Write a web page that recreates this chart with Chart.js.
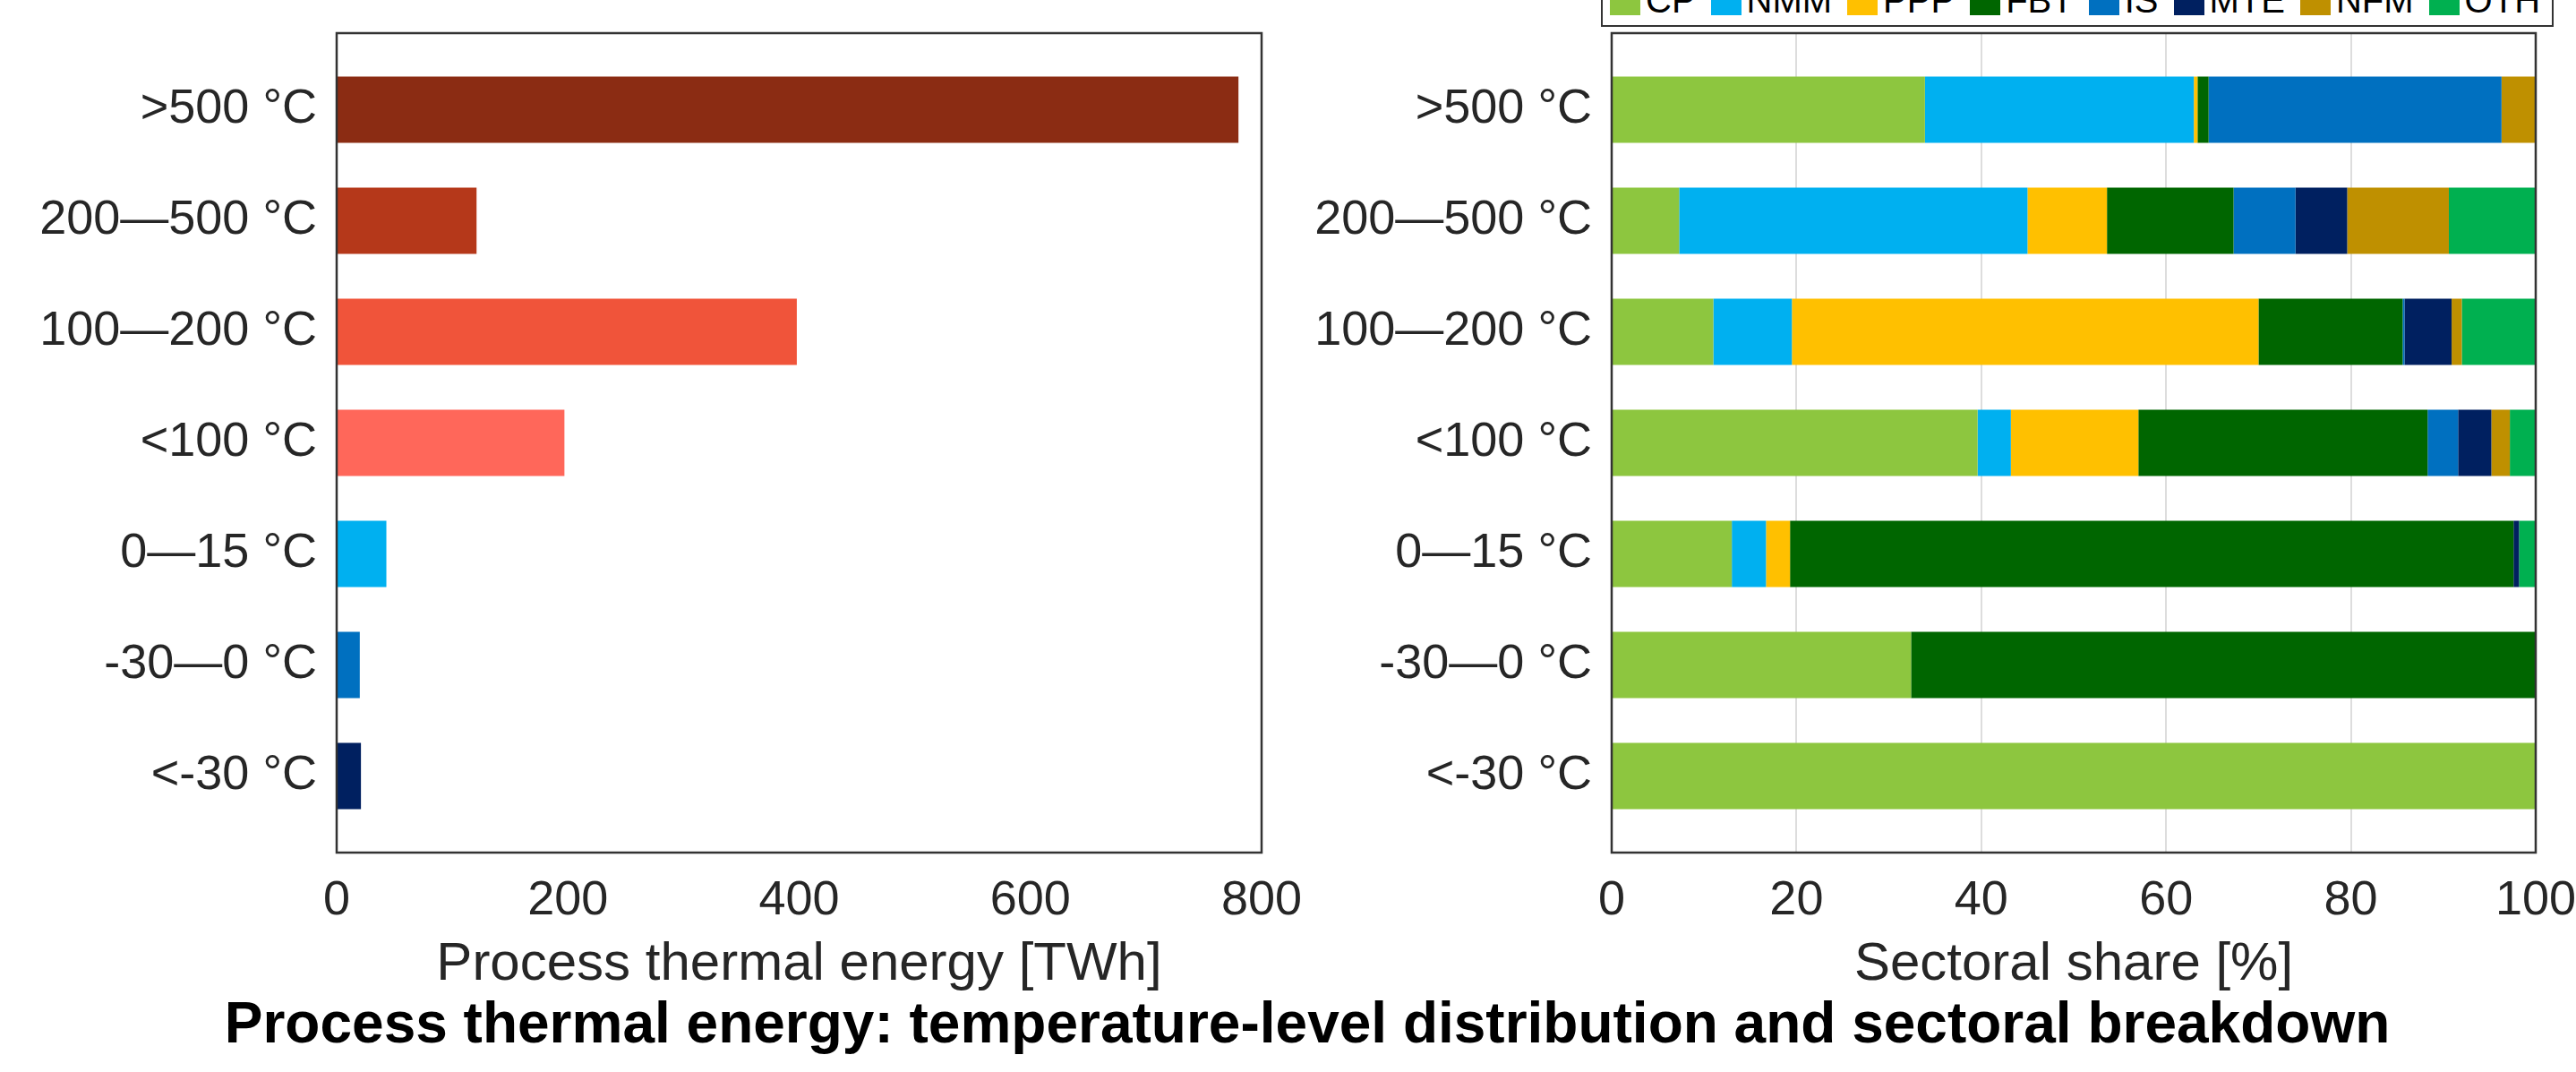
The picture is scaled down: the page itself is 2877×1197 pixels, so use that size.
<!DOCTYPE html>
<html>
<head>
<meta charset="utf-8">
<script src="https://cdn.jsdelivr.net/npm/chart.js@4.4.1/dist/chart.umd.min.js"></script>
<style>
  html, body { margin: 0; padding: 0; background: #ffffff; width: 2877px; height: 1197px; overflow: hidden; position: relative; }
  #leftWrap { position: absolute; left: 0; top: 0; width: 1500px; height: 1120px; }
  #rightWrap { position: absolute; left: 1440px; top: 0; width: 1510px; height: 1120px; }
  #legend { position: absolute; left: 1788px; top: -30px; width: 1052px; height: 56px; border: 2px solid #333; box-sizing: content-box;
            display: flex; align-items: center; padding-left: 8px; gap: 17px; font-family: "Liberation Sans", Arial, sans-serif; font-size: 40px; color: #000; background: #fff; }
  #legend .item { display: flex; align-items: center; gap: 6px; white-space: nowrap; line-height: 1; }
  #legend .sw { width: 34px; height: 34px; display: inline-block; }
  #title { position: absolute; left: 0; width: 2877px; top: 1110px; text-align: center; padding-left: 43px; box-sizing: border-box;
           font-family: "Liberation Sans", Arial, sans-serif; font-weight: bold; font-size: 64px; line-height: 64px; color: #000; }
</style>
</head>
<body>
<div id="leftWrap"><canvas id="left" width="1500" height="1120"></canvas></div>
<div id="rightWrap"><canvas id="right" width="1510" height="1120"></canvas></div>
<div id="legend"></div>
<div id="title">Process thermal energy: temperature-level distribution and sectoral breakdown</div>
<script>
// ---- Data ----
const categories = [">500 °C", "200—500 °C", "100—200 °C", "<100 °C", "0—15 °C", "-30—0 °C", "<-30 °C"];
const energyTWh = [780, 121, 398, 197, 43, 20, 21];
const levelColors = ["#8B2C13", "#B5381A", "#F0543A", "#FF675A", "#00B0F0", "#0070C0", "#002060"];

const sectors = ["CP", "NMM", "PPP", "FBT", "IS", "MTE", "NFM", "OTH"];
const sectorColors = ["#8DC63F", "#00B0F0", "#FFC000", "#006600", "#0070C0", "#002060", "#BF9000", "#00B050"];
const shareCP  = [33.9, 7.3, 11.0, 39.6, 13.0, 32.4, 100];
const shareNMM = [29.1, 37.7, 8.5, 3.6, 3.7, 0, 0];
const sharePPP = [0.4, 8.6, 50.5, 13.8, 2.6, 0, 0];
const shareFBT = [1.2, 13.7, 15.6, 31.3, 78.3, 67.6, 0];
const shareIS  = [31.7, 6.7, 0.2, 3.3, 0, 0, 0];
const shareMTE = [0, 5.6, 5.1, 3.6, 0.6, 0, 0];
const shareNFM = [3.7, 11.0, 1.1, 2.0, 0, 0, 0];
const shareOTH = [0, 9.4, 8.0, 2.8, 1.8, 0, 0];
const shareSeries = [shareCP, shareNMM, sharePPP, shareFBT, shareIS, shareMTE, shareNFM, shareOTH];

const energyTicks = [0, 200, 400, 600, 800];
const shareTicks = [0, 20, 40, 60, 80, 100];

// ---- Styling ----
const FONT = "'Liberation Sans', Arial, sans-serif";
const TXT = "#262626";
const catPad = 0.69;

const framePlugin = {
  id: 'frame',
  afterDraw(chart) {
    const a = chart.chartArea, ctx = chart.ctx;
    ctx.save();
    ctx.strokeStyle = '#333333';
    ctx.lineWidth = 2.5;
    ctx.strokeRect(a.left, a.top, a.right - a.left, a.bottom - a.top);
    ctx.restore();
  }
};

function yScale(width) {
  return {
    type: 'linear',
    reverse: true,
    offset: false,
    min: -catPad,
    max: categories.length - 1 + catPad,
    afterBuildTicks: (s) => { s.ticks = categories.map((_, i) => ({ value: i })); },
    afterFit: (s) => { s.width = width; s.paddingTop = 0; s.paddingBottom = 0; },
    grid: { display: false, drawTicks: false, offset: false },
    border: { display: false },
    ticks: { color: TXT, font: { family: FONT, size: 54 }, padding: 22, autoSkip: false,
             callback: (v) => categories[v] }
  };
}

function xScale(min, max, ticks, title, grid) {
  return {
    type: 'linear',
    min: min, max: max,
    afterBuildTicks: (s) => { s.ticks = ticks.map(v => ({ value: v })); },
    afterFit: (s) => { s.height = 165; },
    grid: grid ? { display: true, drawTicks: false, color: '#dddddd', lineWidth: 2 } : { display: false, drawTicks: false },
    border: { display: false },
    ticks: { color: TXT, font: { family: FONT, size: 54 }, padding: 22, maxRotation: 0 },
    title: { display: true, text: title, color: TXT, font: { family: FONT, size: 60 }, padding: { top: 4, bottom: 4 } }
  };
}

new Chart(document.getElementById('left'), {
  type: 'bar',
  data: {
    datasets: [{
      label: 'Process thermal energy',
      data: energyTWh.map((v, i) => ({ x: v, y: i })),
      backgroundColor: levelColors,
      borderWidth: 0,
      barPercentage: 0.597,
      categoryPercentage: 1
    }]
  },
  options: {
    indexAxis: 'y',
    responsive: false,
    animation: false,
    layout: { padding: { top: 37, left: 0, right: 91, bottom: 3 } },
    plugins: { legend: { display: false }, tooltip: { enabled: false } },
    scales: {
      x: xScale(0, 800, energyTicks, 'Process thermal energy [TWh]', false),
      y: yScale(376)
    }
  },
  plugins: [framePlugin]
});

const rightChart = new Chart(document.getElementById('right'), {
  type: 'bar',
  data: {
    datasets: sectors.map((name, k) => ({
      label: name,
      data: shareSeries[k].map((v, i) => ({ x: v, y: i })),
      backgroundColor: sectorColors[k],
      borderWidth: 0,
      barPercentage: 0.597,
      categoryPercentage: 1
    }))
  },
  options: {
    indexAxis: 'y',
    responsive: false,
    animation: false,
    layout: { padding: { top: 37, left: 0, right: 118, bottom: 3 } },
    plugins: { legend: { display: false }, tooltip: { enabled: false } },
    scales: {
      x: Object.assign(xScale(0, 100, shareTicks, 'Sectoral share [%]', true), { stacked: true }),
      y: Object.assign(yScale(360), { stacked: true })
    }
  },
  plugins: [framePlugin]
});

// HTML legend built from the chart's datasets
const legendEl = document.getElementById('legend');
rightChart.data.datasets.forEach(ds => {
  const item = document.createElement('span');
  item.className = 'item';
  const sw = document.createElement('span');
  sw.className = 'sw';
  sw.style.background = ds.backgroundColor;
  const t = document.createElement('span');
  t.textContent = ds.label;
  item.appendChild(sw); item.appendChild(t);
  legendEl.appendChild(item);
});
</script>
</body>
</html>
